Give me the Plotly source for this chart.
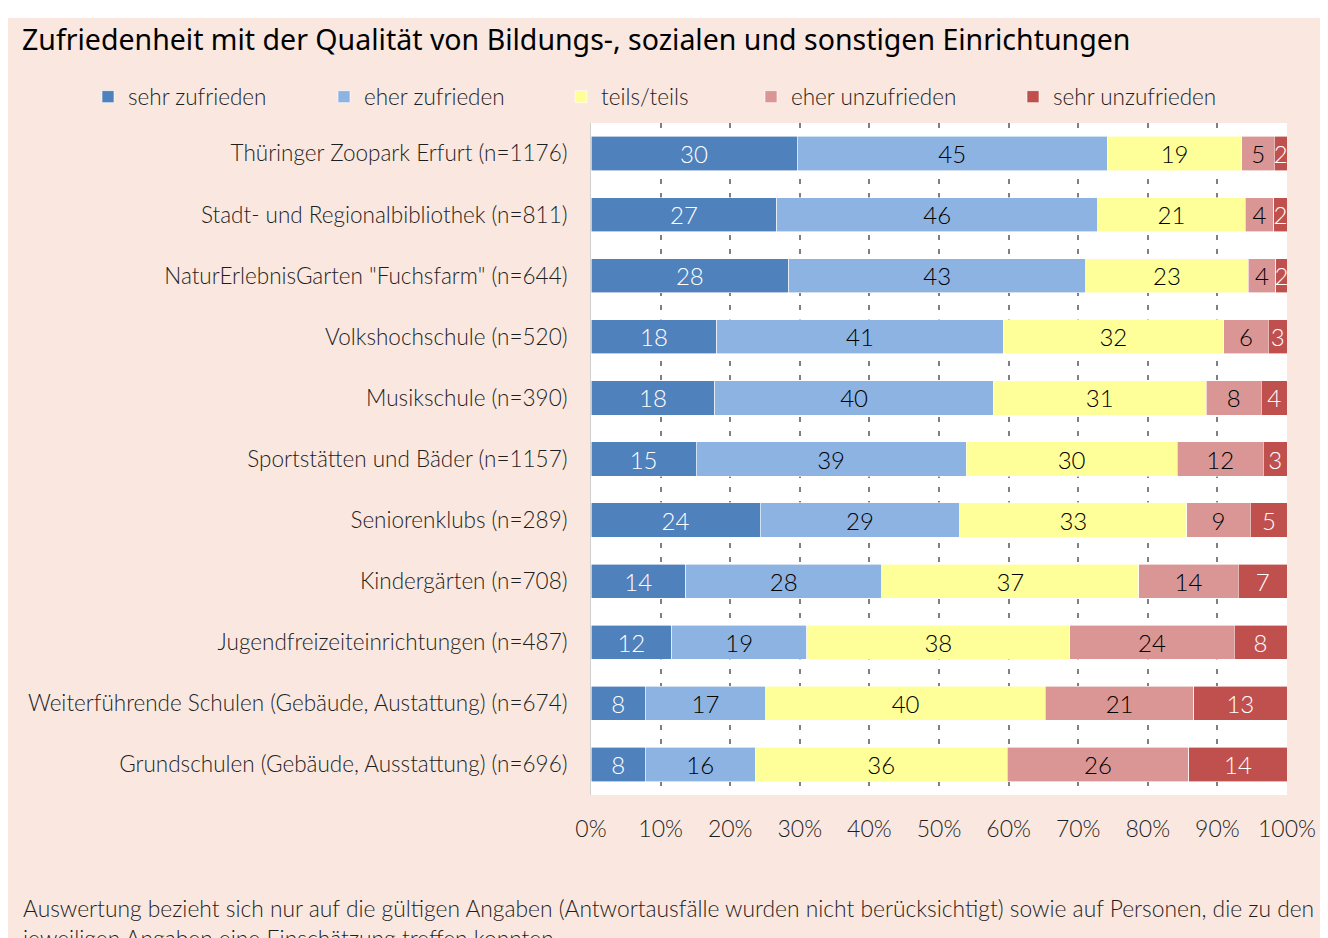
import plotly.graph_objects as go

# Einrichtungen (von oben nach unten wie im Original)
einrichtungen = [
    'Thüringer Zoopark Erfurt (n=1176)',
    'Stadt- und Regionalbibliothek (n=811)',
    'NaturErlebnisGarten "Fuchsfarm" (n=644)',
    'Volkshochschule (n=520)',
    'Musikschule (n=390)',
    'Sportstätten und Bäder (n=1157)',
    'Seniorenklubs (n=289)',
    'Kindergärten (n=708)',
    'Jugendfreizeiteinrichtungen (n=487)',
    'Weiterführende Schulen (Gebäude, Austattung) (n=674)',
    'Grundschulen (Gebäude, Ausstattung) (n=696)',
]

# Anteile in Prozent
sehr_zufrieden = [29.6, 26.7, 28.4, 18.1, 17.8, 15.1, 24.3, 13.6, 11.6, 7.8, 7.8]
eher_zufrieden = [44.6, 46.1, 42.7, 41.1, 40.0, 38.8, 28.7, 28.2, 19.4, 17.3, 15.8]
teils_teils = [19.3, 21.2, 23.3, 31.7, 30.6, 30.3, 32.6, 36.9, 37.8, 40.2, 36.2]
eher_unzufrieden = [4.7, 4.1, 4.0, 6.4, 7.9, 12.4, 9.1, 14.3, 23.6, 21.3, 26.1]
sehr_unzufrieden = [1.8, 1.9, 1.6, 2.7, 3.7, 3.4, 5.4, 7.0, 7.6, 13.4, 14.1]

kategorien = ['sehr zufrieden', 'eher zufrieden', 'teils/teils',
              'eher unzufrieden', 'sehr unzufrieden']
werte = [sehr_zufrieden, eher_zufrieden, teils_teils,
         eher_unzufrieden, sehr_unzufrieden]
farben = ['#4F81BD', '#8DB3E2', '#FFFF99', '#DA9694', '#C0504D']
textfarben = ['white', 'black', 'black', 'black', 'white']

# Legendenpositionen: Textanfang in Pixeln
legende_text_x = [128, 364, 601, 791, 1053]

W, H = 1328, 938
L, R, T, B = 583, 49, 115, 151
PW, PH = W - L - R, H - T - B

font_body = 'Lato, sans-serif'
bg = '#FAE8E0'
txt = '#1E1E1E'

fig = go.Figure()

for i, (name, vals) in enumerate(zip(kategorien, werte)):
    lg = 'legend' if i == 0 else f'legend{i + 1}'
    fig.add_trace(go.Bar(
        y=einrichtungen, x=vals, name=name, orientation='h',
        marker=dict(color=farben[i], line=dict(color='white', width=0.6)),
        text=vals, texttemplate='%{x:.0f}', textposition='inside',
        insidetextanchor='middle', textangle=0, cliponaxis=True,
        insidetextfont=dict(family=font_body, size=24, weight=300, color=textfarben[i]),
        legend=lg, hoverinfo='skip'))

legend_layout = {}
for i, x in enumerate(legende_text_x):
    key = 'legend' if i == 0 else f'legend{i + 1}'
    legend_layout[key] = dict(
        x=(x - 48) / W, xref='container', xanchor='left',
        y=1 - 89 / H, yref='container', yanchor='middle',
        orientation='h', bgcolor='rgba(0,0,0,0)',
        font=dict(family=font_body, size=22.5, weight=300, color=txt),
        itemwidth=30)

fig.update_layout(
    barmode='stack',
    bargap=0.44,
    width=W, height=H,
    margin=dict(l=L, r=R, t=T, b=B, autoexpand=False),
    paper_bgcolor=bg,
    plot_bgcolor='white',
    showlegend=True,
    title=dict(
        text='Zufriedenheit mit der Qualität von Bildungs-, sozialen und sonstigen Einrichtungen',
        x=14 / W, xanchor='left', y=1 - 32 / H, yanchor='middle',
        font=dict(family='Noto Sans, sans-serif', size=28.5, color='black')),
    uniformtext=dict(minsize=24, mode='show'),
    **legend_layout,
)

fig.update_xaxes(
    range=[0, 100], dtick=10, ticksuffix='%',
    showgrid=True, gridcolor='#808080', gridwidth=1.5, griddash='5px,9px',
    zeroline=False, showline=False, ticks='', automargin=False,
    tickfont=dict(family=font_body, size=23, weight=300, color=txt),
    ticklabelstandoff=18, fixedrange=True)

fig.update_yaxes(
    categoryorder='array', categoryarray=einrichtungen[::-1],
    showgrid=False, ticks='', ticklabelstandoff=18, automargin=False,
    showline=True, linecolor='#D0D0D0', linewidth=1,
    tickfont=dict(family=font_body, size=22.5, weight=300, color=txt),
    fixedrange=True)

# weisser Streifen oben ausserhalb des rosa Kastens
fig.add_shape(type='rect', xref='paper', yref='paper',
              x0=-L / PW - 0.05, x1=W / PW, y0=(PH + T - 10) / PH, y1=(PH + T + 20) / PH,
              fillcolor='white', line_width=0, layer='below')

fig.add_annotation(
    text='Auswertung bezieht sich nur auf die gültigen Angaben (Antwortausfälle wurden nicht berücksichtigt) '
         'sowie auf Personen, die zu den<br>jeweiligen Angaben eine Einschätzung treffen konnten.',
    xref='paper', yref='paper', x=(12 - L) / PW, y=(PH + T - 884) / PH,
    xanchor='left', yanchor='top', align='left', showarrow=False,
    font=dict(family=font_body, size=22.8, weight=300, color=txt))

fig.write_html('out.html')
